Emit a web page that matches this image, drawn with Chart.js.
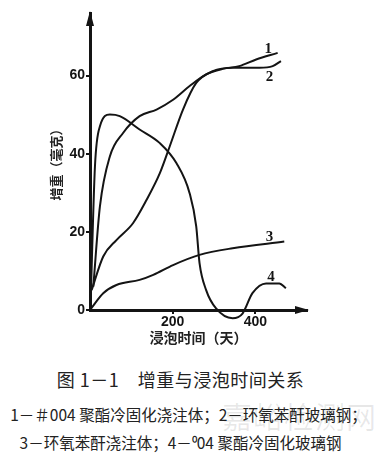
<!DOCTYPE html>
<html lang="zh">
<head>
<meta charset="UTF-8">
<title>增重与浸泡时间关系</title>
<script src="https://cdn.jsdelivr.net/npm/chart.js"></script>
<style>
  body { margin: 0; width: 377px; height: 463px; background: #fff; position: relative; overflow: hidden; }
  #box { position: absolute; left: 0; top: 0; width: 377px; height: 346px; }
  .cap { position: absolute; left: 0; width: 377px; text-align: center; color: #222; font-family: "Noto Sans CJK SC", sans-serif; white-space: nowrap; }
  #wm { position: absolute; left: 222px; top: 393px; font: 30px "Noto Sans CJK SC", sans-serif; color: rgba(0,0,0,0.09); letter-spacing: 1px; }
</style>
</head>
<body>
<div id="box"><canvas id="myChart"></canvas></div>
<div class="cap" style="top:366px;font-size:18px;left:-8px;letter-spacing:0.5px;">图 1－1　增重与浸泡时间关系</div>
<div class="cap" style="top:403px;font-size:15.5px;">1－＃004 聚酯冷固化浇注体；2－环氧苯酐玻璃钢；</div>
<div class="cap" style="top:431px;font-size:15.5px;left:-8px;">3－环氧苯酐浇注体；4－⁰04 聚酯冷固化玻璃钢</div>
<div id="wm">嘉峪检测网</div>

<script>
// 곡선 데이터 (x: 일, y: 증량 mg)
const days1 = [8, 24, 48, 80, 120, 161, 201, 241, 281, 321, 361, 402, 454];
const gain1 = [6, 26.5, 39.3, 45.3, 49.6, 51.3, 53.8, 57.3, 60.3, 61.7, 62.4, 64.1, 65.8];

const days2 = [4, 32, 64, 104, 137, 169, 193, 225, 257, 297, 345, 410, 442, 462];
const gain2 = [5.1, 13.7, 17.9, 22.2, 28.2, 35, 41.9, 51.3, 58.1, 61.1, 62, 62, 62.4, 63.7];

const days3 = [2, 32, 64, 120, 153, 201, 265, 345, 470];
const gain3 = [0.3, 4.3, 6.4, 7.7, 9, 11.5, 14.1, 15.8, 17.5];

const days4 = [1, 12, 24, 48, 72, 120, 169, 209, 241, 257, 265, 281, 305, 345, 369, 393, 426, 458, 474];
const gain4 = [0, 36.8, 47, 50, 49.6, 46.2, 42.7, 37.6, 29.9, 21.4, 12, 5.1, 0.4, -2.1, -0.9, 4.3, 6.8, 6.8, 5.6];

// 곡선 번호 위치
const curveNames = ['1', '2', '3', '4'];
const nameX = [431, 434, 434, 438];
const nameY = [66.7, 59.7, 18.7, 8.5];

// 눈금
const xTicks = [200, 400];
const yTicks = [0, 20, 40, 60];

const ink = '#141414';

function toPoints(xs, ys) {
    return xs.map((x, i) => ({ x: x, y: ys[i] }));
}

function lineSet(xs, ys) {
    return {
        data: toPoints(xs, ys),
        borderColor: ink,
        borderWidth: 2,
        pointRadius: 0,
        fill: false,
        cubicInterpolationMode: 'monotone',
        clip: false,
    };
}

// 화살표와 곡선 번호
const extras = {
    id: 'extras',
    afterDraw(chart) {
        const c = chart.ctx;
        const a = chart.chartArea;
        const sx = chart.scales.x, sy = chart.scales.y;
        const x0 = sx.getPixelForValue(0), y0 = sy.getPixelForValue(0);
        c.save();
        c.fillStyle = ink;
        // y축 화살표
        c.beginPath();
        c.moveTo(x0, a.top - 2);
        c.lineTo(x0 - 4, a.top + 13);
        c.lineTo(x0 + 4, a.top + 13);
        c.closePath();
        c.fill();
        // x축 화살표
        c.beginPath();
        c.moveTo(a.right + 2, y0);
        c.lineTo(a.right - 12, y0 - 4);
        c.lineTo(a.right - 12, y0 + 4);
        c.closePath();
        c.fill();
        // 곡선 번호
        c.font = 'bold 15px "Liberation Serif", serif';
        c.textAlign = 'center';
        c.textBaseline = 'middle';
        curveNames.forEach((t, i) => {
            c.fillText(t, sx.getPixelForValue(nameX[i]), sy.getPixelForValue(nameY[i]));
        });
        c.restore();
    }
};

const ctx = document.getElementById('myChart').getContext('2d');

const myChart = new Chart(ctx, {
    type: 'line',
    data: {
        datasets: [
            lineSet(days1, gain1),
            lineSet(days2, gain2),
            lineSet(days3, gain3),
            lineSet(days4, gain4),
        ],
    },
    options: {
        responsive: true,
        maintainAspectRatio: false,
        animation: false,
        layout: { padding: { left: 48, right: 70, top: 13, bottom: 0 } },
        plugins: { legend: { display: false }, tooltip: { enabled: false } },
        scales: {
            x: {
                type: 'linear',
                min: 0,
                max: 525,
                afterBuildTicks: s => { s.ticks = xTicks.map(v => ({ value: v })); },
                afterFit: s => { s.height = 36; },
                border: { color: ink, width: 3 },
                grid: { drawOnChartArea: false, drawTicks: true, tickLength: 4, color: ink, lineWidth: 2 },
                ticks: { color: ink, padding: 0, font: { family: '"Liberation Sans", sans-serif', size: 14, weight: 'bold' } },
                title: {
                    display: true,
                    text: '浸泡时间（天）',
                    color: '#222',
                    padding: { top: 2, bottom: 0 },
                    font: { family: '"Noto Sans CJK SC", sans-serif', size: 14, weight: 'bold' },
                },
            },
            y: {
                type: 'linear',
                min: 0,
                max: 76,
                afterBuildTicks: s => { s.ticks = yTicks.map(v => ({ value: v })); },
                afterFit: s => { s.width = 42; },
                border: { color: ink, width: 3 },
                grid: { drawOnChartArea: false, drawTicks: true, tickLength: 4, color: ink, lineWidth: 2 },
                ticks: { color: ink, padding: 1, font: { family: '"Liberation Sans", sans-serif', size: 14, weight: 'bold' } },
                title: {
                    display: true,
                    text: '增重（毫克）',
                    color: '#222',
                    padding: { top: 0, bottom: 0 },
                    font: { family: '"Noto Sans CJK SC", sans-serif', size: 13, weight: 'bold' },
                },
            },
        },
    },
    plugins: [extras],
});
</script>
</body>
</html>
